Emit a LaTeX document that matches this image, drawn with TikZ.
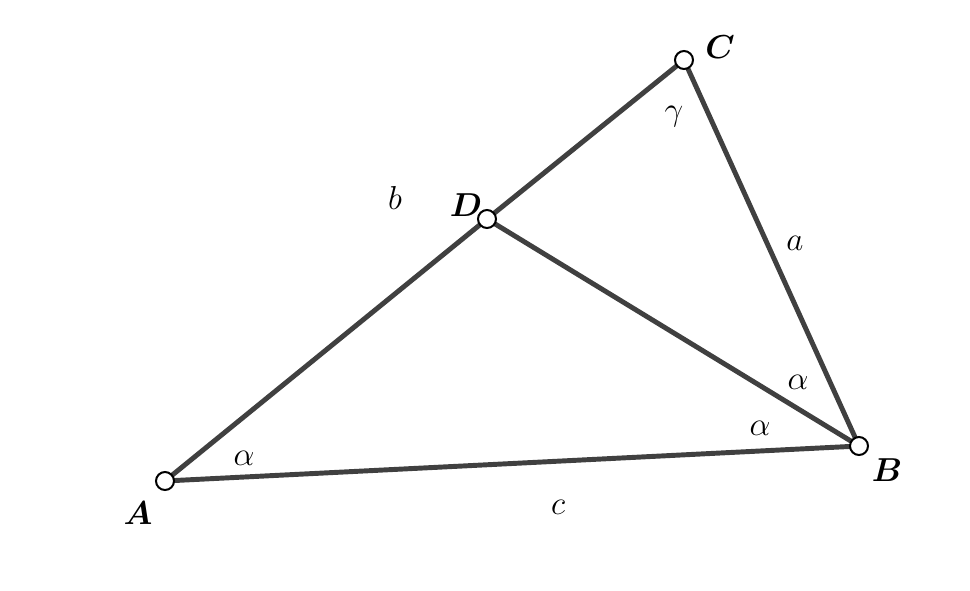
\documentclass[tikz,border=0pt]{standalone}
\usepackage{amsmath,amssymb}
\usepackage{xcolor}
\usepackage{tikz}
\usetikzlibrary{calc}
\usetikzlibrary{positioning}

\definecolor{edgegray}{RGB}{64,64,64}
\tikzset{
  side/.style={draw=edgegray,line width=3.7pt},
  vertex/.style={circle,draw=black,fill=white,line width=1.5pt,minimum size=13.5pt,inner sep=0pt},
  lbl/.style={font=\fontsize{28}{32}\selectfont,inner sep=0pt}
}

\begin{document}
\begin{tikzpicture}[x=0.75pt,y=0.75pt,yscale=-1,xscale=1]
\useasboundingbox (0,0) rectangle (970,590);

%Points
\coordinate (A) at (165,481);
\coordinate (B) at (859,446);
\coordinate (C) at (684,60);
\coordinate (D) at (487,219);

%Sides
\draw [side] (A) -- (B) -- (C) -- (D) -- (A) ;
\draw [side] (D) -- (B) ;

%Vertices
\node [vertex] (vA) at (A) {};
\node [vertex] (vB) at (B) {};
\node [vertex] (vC) at (C) {};
\node [vertex] (vD) at (D) {};

%Vertex labels
\node [lbl] (lA) at (138,513) {$\boldsymbol{A}$};
\node [lbl] (lB) at (887,470) {$\boldsymbol{B}$};
\node [lbl] (lC) at (720,47) {$\boldsymbol{C}$};
\node [lbl] (lD) at (466,205) {$\boldsymbol{D}$};

%Side labels
\node [lbl] (la) at (795,243) {$a$};
\node [lbl] (lb) at (395,198) {$b$};
\node [lbl] (lc) at (558,507) {$c$};

%Angles
\node [lbl] (gC) at (674,117) {$\gamma$};
\node [lbl] (aA) at (244,458) {$\alpha$};
\node [lbl] (aB1) at (760,428) {$\alpha$};
\node [lbl] (aB2) at (798,382) {$\alpha$};

\end{tikzpicture}
\end{document}
